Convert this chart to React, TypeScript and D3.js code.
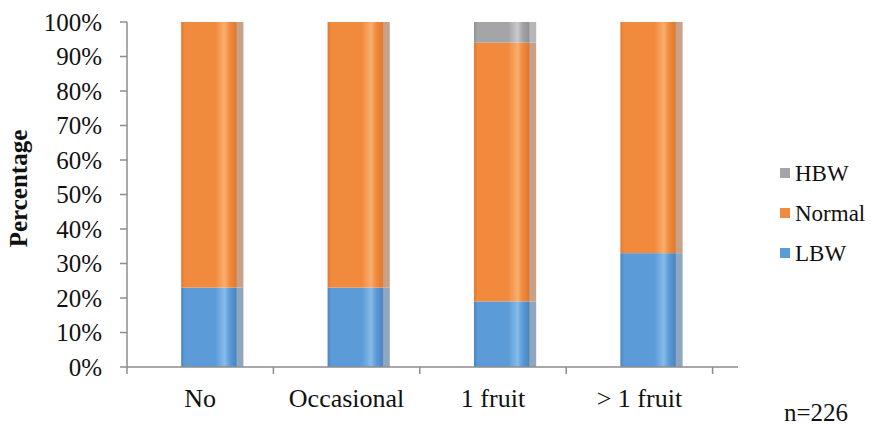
import React from "react";
import * as d3 from "d3";

// Birth-weight class share by fruit intake
const categories = ["No", "Occasional", "1 fruit", "> 1 fruit"];
const lbw = [23, 23, 19, 33];
const normal = [77, 77, 75, 67];
const hbw = [0, 0, 6, 0];
const seriesNames = ["LBW", "Normal", "HBW"];
const yTicks = [0, 10, 20, 30, 40, 50, 60, 70, 80, 90, 100];
const sampleNote = "n=226";

const W = 872;
const H = 427;
const plot = { left: 127, right: 712.6, top: 22, bottom: 367 };

const palette: Record<string, { base: string; light: string; dark: string; shade: string }> = {
  LBW: { base: "#5b9bd7", light: "#86bbea", dark: "#4a86c2", shade: "#8fa6bf" },
  Normal: { base: "#f28a3e", light: "#f8ae6e", dark: "#e07a30", shade: "#c9a088" },
  HBW: { base: "#a3a5a8", light: "#c8cacc", dark: "#909295", shade: "#b5b7ba" },
};

const serif = "Liberation Serif";

export default function App() {
  const x = d3.scaleBand<string>().domain(categories).range([plot.left, plot.right]);
  const y = d3.scaleLinear().domain([0, 100]).range([plot.bottom, plot.top]);

  const rows = categories.map((c, i) => ({ cat: c, LBW: lbw[i], Normal: normal[i], HBW: hbw[i] }));
  const stacked = d3.stack<any>().keys(seriesNames)(rows);

  const bw = x.bandwidth();
  const barOffset = bw * 0.37;
  const barWidth = bw * 0.425;

  const legendItems = ["HBW", "Normal", "LBW"];

  return (
    <svg
      width={W}
      height={H}
      style={{ position: "absolute", left: 0, top: 0, background: "#fff", fontFamily: serif }}
    >
      <defs>
        {seriesNames.map((k) => {
          const p = palette[k];
          return (
            <linearGradient key={k} id={`grad-${k}`} x1="0" x2="1" y1="0" y2="0">
              <stop offset="0" stopColor={p.dark} />
              <stop offset="0.06" stopColor={p.base} />
              <stop offset="0.55" stopColor={p.base} />
              <stop offset="0.7" stopColor={p.light} />
              <stop offset="0.78" stopColor={p.base} />
              <stop offset="0.88" stopColor={p.dark} />
              <stop offset="0.9" stopColor={p.shade} />
              <stop offset="1" stopColor={p.shade} />
            </linearGradient>
          );
        })}
      </defs>

      {/* stacked bars */}
      {stacked.map((layer) => (
        <g key={layer.key}>
          {layer.map((d, i) => {
            const h = y(d[0]) - y(d[1]);
            if (h <= 0) return null;
            return (
              <rect
                key={i}
                x={(x(categories[i]) as number) + barOffset}
                y={y(d[1])}
                width={barWidth}
                height={h}
                fill={`url(#grad-${layer.key})`}
              />
            );
          })}
        </g>
      ))}

      {/* y axis */}
      <line x1={plot.left} x2={plot.left} y1={plot.top} y2={plot.bottom} stroke="#8c8c8c" strokeWidth={1.5} />
      {yTicks.map((t) => (
        <g key={t}>
          <line x1={plot.left - 7} x2={plot.left} y1={y(t)} y2={y(t)} stroke="#8c8c8c" strokeWidth={1.5} />
          <text
            x={102}
            y={y(t)}
            textAnchor="end"
            dominantBaseline="central"
            fontSize={25}
            fill="#111"
          >
            {t}%
          </text>
        </g>
      ))}

      {/* x axis */}
      <line x1={plot.left} x2={738} y1={plot.bottom} y2={plot.bottom} stroke="#8c8c8c" strokeWidth={1.5} />
      {[...categories.map((c) => x(c) as number), plot.right].map((px, i) => (
        <line key={i} x1={px} x2={px} y1={plot.bottom} y2={plot.bottom + 7} stroke="#8c8c8c" strokeWidth={1.5} />
      ))}
      {categories.map((c) => (
        <text
          key={c}
          x={(x(c) as number) + bw / 2}
          y={407}
          textAnchor="middle"
          fontSize={26}
          fill="#111"
        >
          {c}
        </text>
      ))}

      {/* y axis title */}
      <text
        transform={`translate(27, ${(plot.top + plot.bottom) / 2 - 6}) rotate(-90)`}
        textAnchor="middle"
        fontSize={25}
        fontWeight="bold"
        fill="#111"
      >
        Percentage
      </text>

      {/* legend */}
      {legendItems.map((k, i) => {
        const cy = 173 + i * 40;
        return (
          <g key={k}>
            <rect x={780} y={cy - 5} width={10} height={10} fill={palette[k].base} />
            <text x={795} y={cy} dominantBaseline="central" fontSize={23} fill="#111">
              {k}
            </text>
          </g>
        );
      })}

      <text x={784} y={421} fontSize={25} fill="#111">
        {sampleNote}
      </text>
    </svg>
  );
}
